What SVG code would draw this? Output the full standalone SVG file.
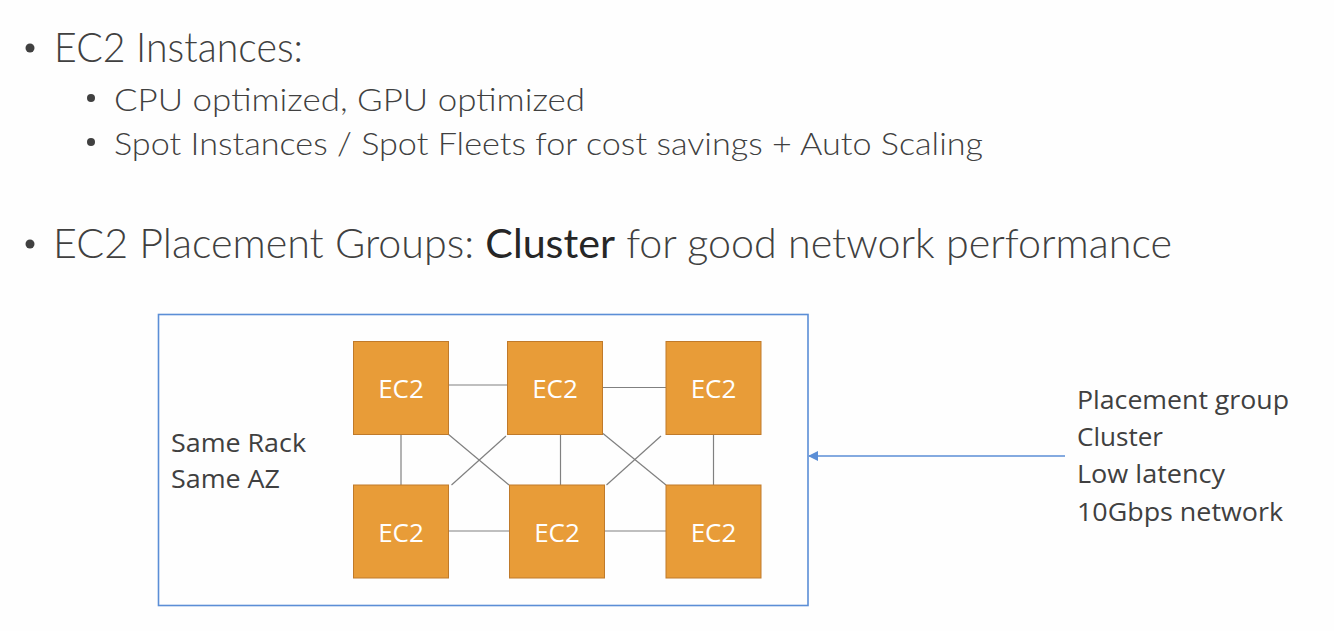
<svg xmlns="http://www.w3.org/2000/svg" width="1334" height="631" viewBox="0 0 1334 631">
<style>
.h{font-family:Lato,"Open Sans","Liberation Sans",sans-serif;fill:#404040;font-weight:300}
.d{font-family:"Open Sans","Liberation Sans",sans-serif;fill:#404040;font-size:25px}
.ec2{fill:#E89C38;stroke:#C07A2A;stroke-width:1}
.lbl{font-family:"Open Sans","Liberation Sans",sans-serif;fill:#ffffff;font-size:26px;text-anchor:middle}
.ln{stroke:#808080;stroke-width:1.2;fill:none}
.bul{fill:#404040}
</style>
<defs>
<marker id="ah" markerWidth="10" markerHeight="10" refX="9" refY="5" orient="auto" markerUnits="userSpaceOnUse">
<path d="M0,0 L10,5 L0,10 z" fill="#5B8ED6"/>
</marker>
</defs>
<rect width="1334" height="631" fill="#fefefe"/>
<g id="bullets">
<circle class="bul" cx="30" cy="48" r="4.5"/>
<text class="h" x="54" y="62" font-size="41" textLength="249" lengthAdjust="spacingAndGlyphs">EC2 Instances:</text>
<circle class="bul" cx="91" cy="98" r="4"/>
<text class="h" x="114" y="111" font-size="32" textLength="471" lengthAdjust="spacingAndGlyphs">CPU optimized, GPU optimized</text>
<circle class="bul" cx="91" cy="142" r="4"/>
<text class="h" x="114" y="155" font-size="32" textLength="869" lengthAdjust="spacingAndGlyphs">Spot Instances / Spot Fleets for cost savings + Auto Scaling</text>
<circle class="bul" cx="30" cy="244" r="4.5"/>
<text class="h" x="53" y="258" font-size="41" textLength="1119" lengthAdjust="spacingAndGlyphs">EC2 Placement Groups: <tspan fill="#262626" style="font-weight:400">Cluster</tspan> for good network performance</text>
</g>
<g id="placement-group">
<rect x="158.5" y="314.5" width="649.5" height="291" fill="none" stroke="#5B8ED6" stroke-width="1.6"/>
<text class="d" x="171" y="452" textLength="135" lengthAdjust="spacingAndGlyphs">Same Rack</text>
<text class="d" x="171" y="488" textLength="109" lengthAdjust="spacingAndGlyphs">Same AZ</text>
</g>
<g id="connectors">
<line class="ln" x1="448" y1="385" x2="507" y2="385"/>
<line class="ln" x1="602" y1="387.5" x2="666" y2="387.5"/>
<line class="ln" x1="448" y1="531" x2="509" y2="531"/>
<line class="ln" x1="604" y1="531" x2="666" y2="531"/>
<line class="ln" x1="401" y1="434" x2="401" y2="485"/>
<line class="ln" x1="560.5" y1="434" x2="560.5" y2="485"/>
<line class="ln" x1="713.5" y1="434" x2="713.5" y2="485"/>
<line class="ln" x1="448" y1="434" x2="509" y2="485"/>
<line class="ln" x1="506" y1="436" x2="451.5" y2="485"/>
<line class="ln" x1="603" y1="433.5" x2="666" y2="485"/>
<line class="ln" x1="661" y1="436" x2="606.5" y2="485"/>
<line x1="1065" y1="456" x2="809" y2="456" stroke="#5B8ED6" stroke-width="1.3" marker-end="url(#ah)"/>
</g>
<g id="ec2-tl"><rect class="ec2" x="353.5" y="341.5" width="95" height="93"/><text class="lbl" x="401" y="398">EC2</text></g>
<g id="ec2-tm"><rect class="ec2" x="507.5" y="341.5" width="95" height="93"/><text class="lbl" x="555" y="398">EC2</text></g>
<g id="ec2-tr"><rect class="ec2" x="666" y="341.5" width="95" height="93"/><text class="lbl" x="713.5" y="398">EC2</text></g>
<g id="ec2-bl"><rect class="ec2" x="353.5" y="485" width="95" height="93"/><text class="lbl" x="401" y="541.5">EC2</text></g>
<g id="ec2-bm"><rect class="ec2" x="509.5" y="485" width="95" height="93"/><text class="lbl" x="557" y="541.5">EC2</text></g>
<g id="ec2-br"><rect class="ec2" x="666" y="485" width="95" height="93"/><text class="lbl" x="713.5" y="541.5">EC2</text></g>
<g id="note">
<text class="d" x="1077" y="409" textLength="212" lengthAdjust="spacingAndGlyphs">Placement group</text>
<text class="d" x="1077" y="446" textLength="86" lengthAdjust="spacingAndGlyphs">Cluster</text>
<text class="d" x="1077" y="483" textLength="148" lengthAdjust="spacingAndGlyphs">Low latency</text>
<text class="d" x="1077" y="521" textLength="206" lengthAdjust="spacingAndGlyphs">10Gbps network</text>
</g>
</svg>
